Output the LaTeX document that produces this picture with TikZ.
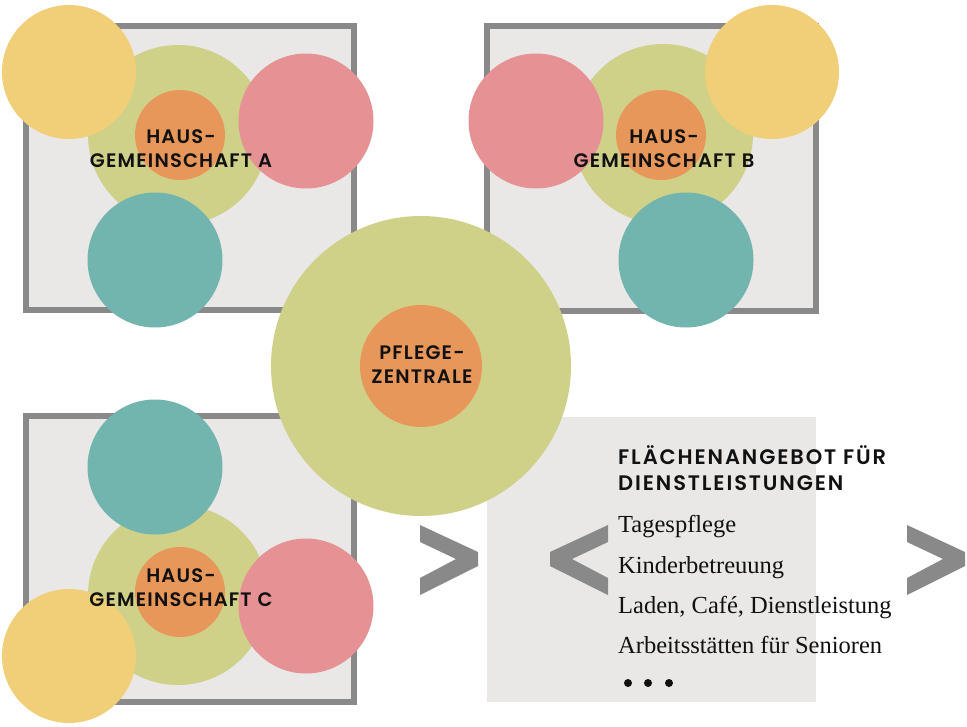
\documentclass[tikz,border=0pt]{standalone}
\usepackage{fontspec}
\setmainfont{Liberation Serif}
\newfontfamily\hfont[LetterSpace=9, BoldFont={Poppins SemiBold}]{Poppins}
\newfontfamily\lfont[LetterSpace=6, BoldFont={Poppins SemiBold}]{Poppins}
\definecolor{cyellow}{HTML}{F0CF78}
\definecolor{cgreen}{HTML}{CED187}
\definecolor{corange}{HTML}{E8975A}
\definecolor{cpink}{HTML}{E69294}
\definecolor{cteal}{HTML}{72B5AE}
\definecolor{cframe}{HTML}{8A8989}
\definecolor{cbox}{HTML}{E9E8E7}
\definecolor{ctext}{HTML}{111111}
\tikzset{
  dot/.style={circle, inner sep=0pt, minimum size=#1},
  yel/.style={dot=134pt, fill=cyellow},
  pnk/.style={dot=135pt, fill=cpink},
  tea/.style={dot=135pt, fill=cteal},
  grn/.style={dot=180pt, fill=cgreen},
  org/.style={dot=90pt, fill=corange},
  house/.style={draw=cframe, line width=6pt, fill=cbox},
  lab/.style={font=\lfont\bfseries\fontsize{19.5}{24}\selectfont, text=ctext, align=center, inner sep=0pt},
  head/.style={font=\hfont\bfseries\fontsize{21}{26}\selectfont, text=ctext, anchor=base west, inner sep=0pt},
  item/.style={font=\fontsize{24.5}{26}\selectfont, text=ctext, anchor=base west, inner sep=0pt},
  chev/.style={fill=cframe},
}
\begin{document}
\begin{tikzpicture}[x=1pt,y=-1pt]
\useasboundingbox (0,0) rectangle (967,726);
% house frames
\draw[house] (26,26) rectangle (354,310);
\draw[house] (487,26) rectangle (816,311);
\draw[house] (26,416) rectangle (354,702);
% service box
\fill[cbox] (487,417) rectangle (816,702);
% house A
\node[grn] (gA) at (178,135) {};
\node[org] (oA) at (180,135) {};
\node[yel] (yA) at (69,72) {};
\node[pnk] (pA) at (306,121) {};
\node[tea] (tA) at (155,260) {};
\node[lab] (lA) at (181,149) {HAUS-\\GEMEINSCHAFT A};
% house B
\node[grn] (gB) at (663,134) {};
\node[org] (oB) at (661,135) {};
\node[yel] (yB) at (772,72) {};
\node[pnk] (pB) at (536,121) {};
\node[tea] (tB) at (686,260) {};
\node[lab] (lB) at (664,149) {HAUS-\\GEMEINSCHAFT B};
% house C
\node[grn] (gC) at (178,595) {};
\node[org] (oC) at (180,592) {};
\node[tea] (tC) at (155,467) {};
\node[pnk] (pC) at (306,606) {};
\node[yel] (yC) at (69,656) {};
\node[lab] (lC) at (181,588) {HAUS-\\GEMEINSCHAFT C};
% centre
\node[dot=300pt, fill=cgreen] (gZ) at (421,366) {};
\node[dot=122pt, fill=corange] (oZ) at (421,366) {};
\node[lab] (lZ) at (422,365) {PFLEGE-\\ZENTRALE};
% chevrons
\fill[chev] (420,525) -- (478,552) -- (478,566) -- (420,595) -- (420,578) -- (456,559) -- (420,542) -- cycle;
\fill[chev] (608,525) -- (550,552) -- (550,566) -- (608,595) -- (608,578) -- (572,559) -- (608,542) -- cycle;
\fill[chev] (907,525) -- (965,552) -- (965,566) -- (907,595) -- (907,578) -- (943,559) -- (907,542) -- cycle;
% texts
\node[head] (h1) at (618,464) {FLÄCHENANGEBOT FÜR};
\node[head] (h2) at (618,490) {DIENSTLEISTUNGEN};
\node[item] (i1) at (618,532) {Tagespflege};
\node[item] (i2) at (618,573) {Kinderbetreuung};
\node[item] (i3) at (618,613) {Laden, Café, Dienstleistung};
\node[item] (i4) at (618,653) {Arbeitsstätten für Senioren};
\fill[ctext] (628,683) circle (4) (648,683) circle (4) (669,683) circle (4);
\end{tikzpicture}
\end{document}
